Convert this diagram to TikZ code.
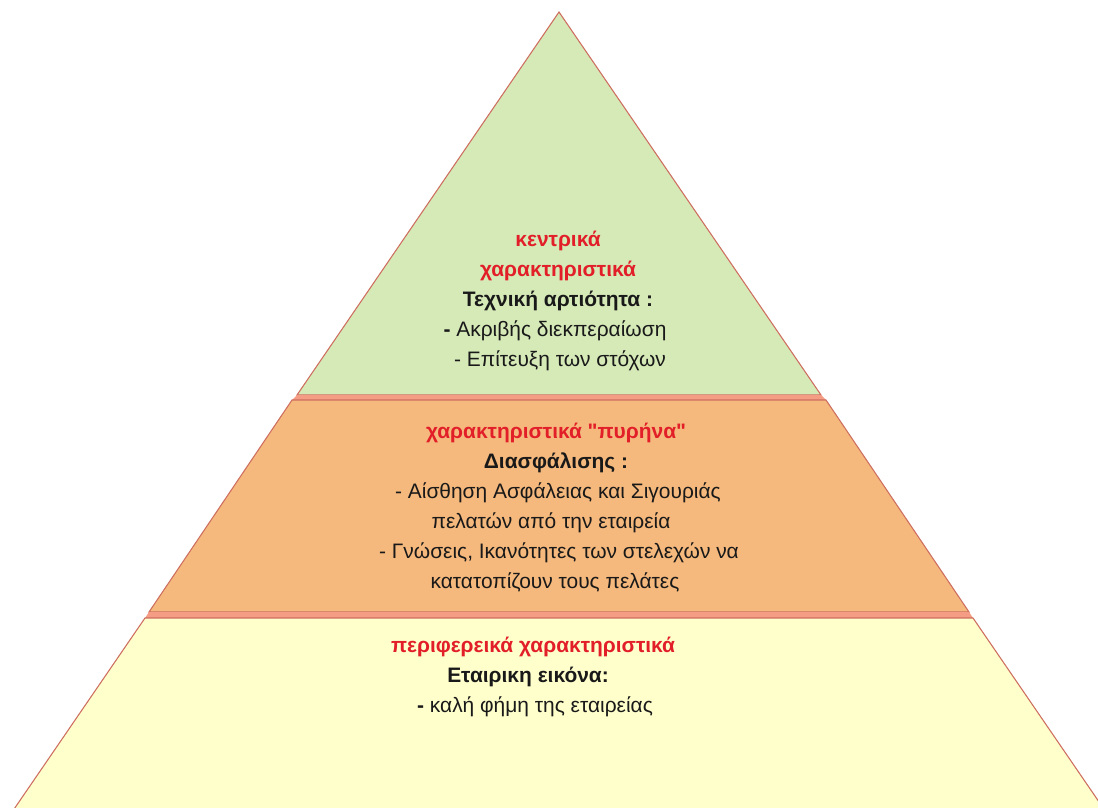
\documentclass[tikz,border=0pt]{standalone}
\usepackage{fontspec}
\setmainfont{Liberation Sans}[Ligatures=TeXOff]
\definecolor{apexfill}{RGB}{214,234,184}
\definecolor{corefill}{RGB}{245,185,125}
\definecolor{basefill}{RGB}{255,255,204}
\definecolor{bandfill}{RGB}{244,156,132}
\definecolor{edgecol}{RGB}{205,110,95}
\definecolor{titlered}{RGB}{226,30,40}
\definecolor{ink}{RGB}{25,25,25}
\begin{document}
\begin{tikzpicture}[x=0.75pt,y=-0.75pt,
  layer/.style={draw=edgecol,line width=0.8pt},
  txt/.style={anchor=base,inner sep=0pt,text=ink,font=\fontsize{15.7}{18}\selectfont},
  head/.style={txt,font=\fontsize{15.7}{18}\selectfont\bfseries},
  ttl/.style={head,text=titlered}]
\useasboundingbox (0,0) rectangle (1098,807);
\clip (0,0) rectangle (1098,807);

% pyramid layers
\path[layer,fill=apexfill] (559,12) -- (821,395) -- (297,395) -- cycle;
\fill[bandfill] (297,395) -- (821,395) -- (826,400) -- (292,400) -- cycle;
\path[layer,fill=corefill] (292,400) -- (826,400) -- (969,612) -- (149,612) -- cycle;
\fill[bandfill] (149,612) -- (969,612) -- (973,618) -- (145,618) -- cycle;
\path[layer,fill=basefill] (145,618) -- (973,618) -- (1108,815) -- (10,815) -- cycle;

% top layer
\node[ttl]  (t1) at (558,246) {κεντρικά};
\node[ttl]  (t2) at (558,276) {χαρακτηριστικά};
\node[head] (t3) at (558,306) {Τεχνική αρτιότητα :};
\node[txt]  (t4) at (555,336) {\textbf{-} Ακριβής διεκπεραίωση};
\node[txt]  (t5) at (560,366) {- Επίτευξη των στόχων};

% middle layer
\node[ttl]  (m1) at (556,438) {χαρακτηριστικά "πυρήνα"};
\node[head] (m2) at (556,468) {Διασφάλισης :};
\node[txt]  (m3) at (558,498) {- Αίσθηση Ασφάλειας και Σιγουριάς};
\node[txt]  (m4) at (551,528) {πελατών από την εταιρεία};
\node[txt]  (m5) at (559,558) {- Γνώσεις, Ικανότητες των στελεχών να};
\node[txt]  (m6) at (555,588) {κατατοπίζουν τους πελάτες};

% bottom layer
\node[ttl]  (b1) at (533,652) {περιφερεικά χαρακτηριστικά};
\node[head] (b2) at (528,682) {Εταιρικη εικόνα:};
\node[txt]  (b3) at (535,712) {\textbf{-} καλή φήμη της εταιρείας};
\end{tikzpicture}
\end{document}
